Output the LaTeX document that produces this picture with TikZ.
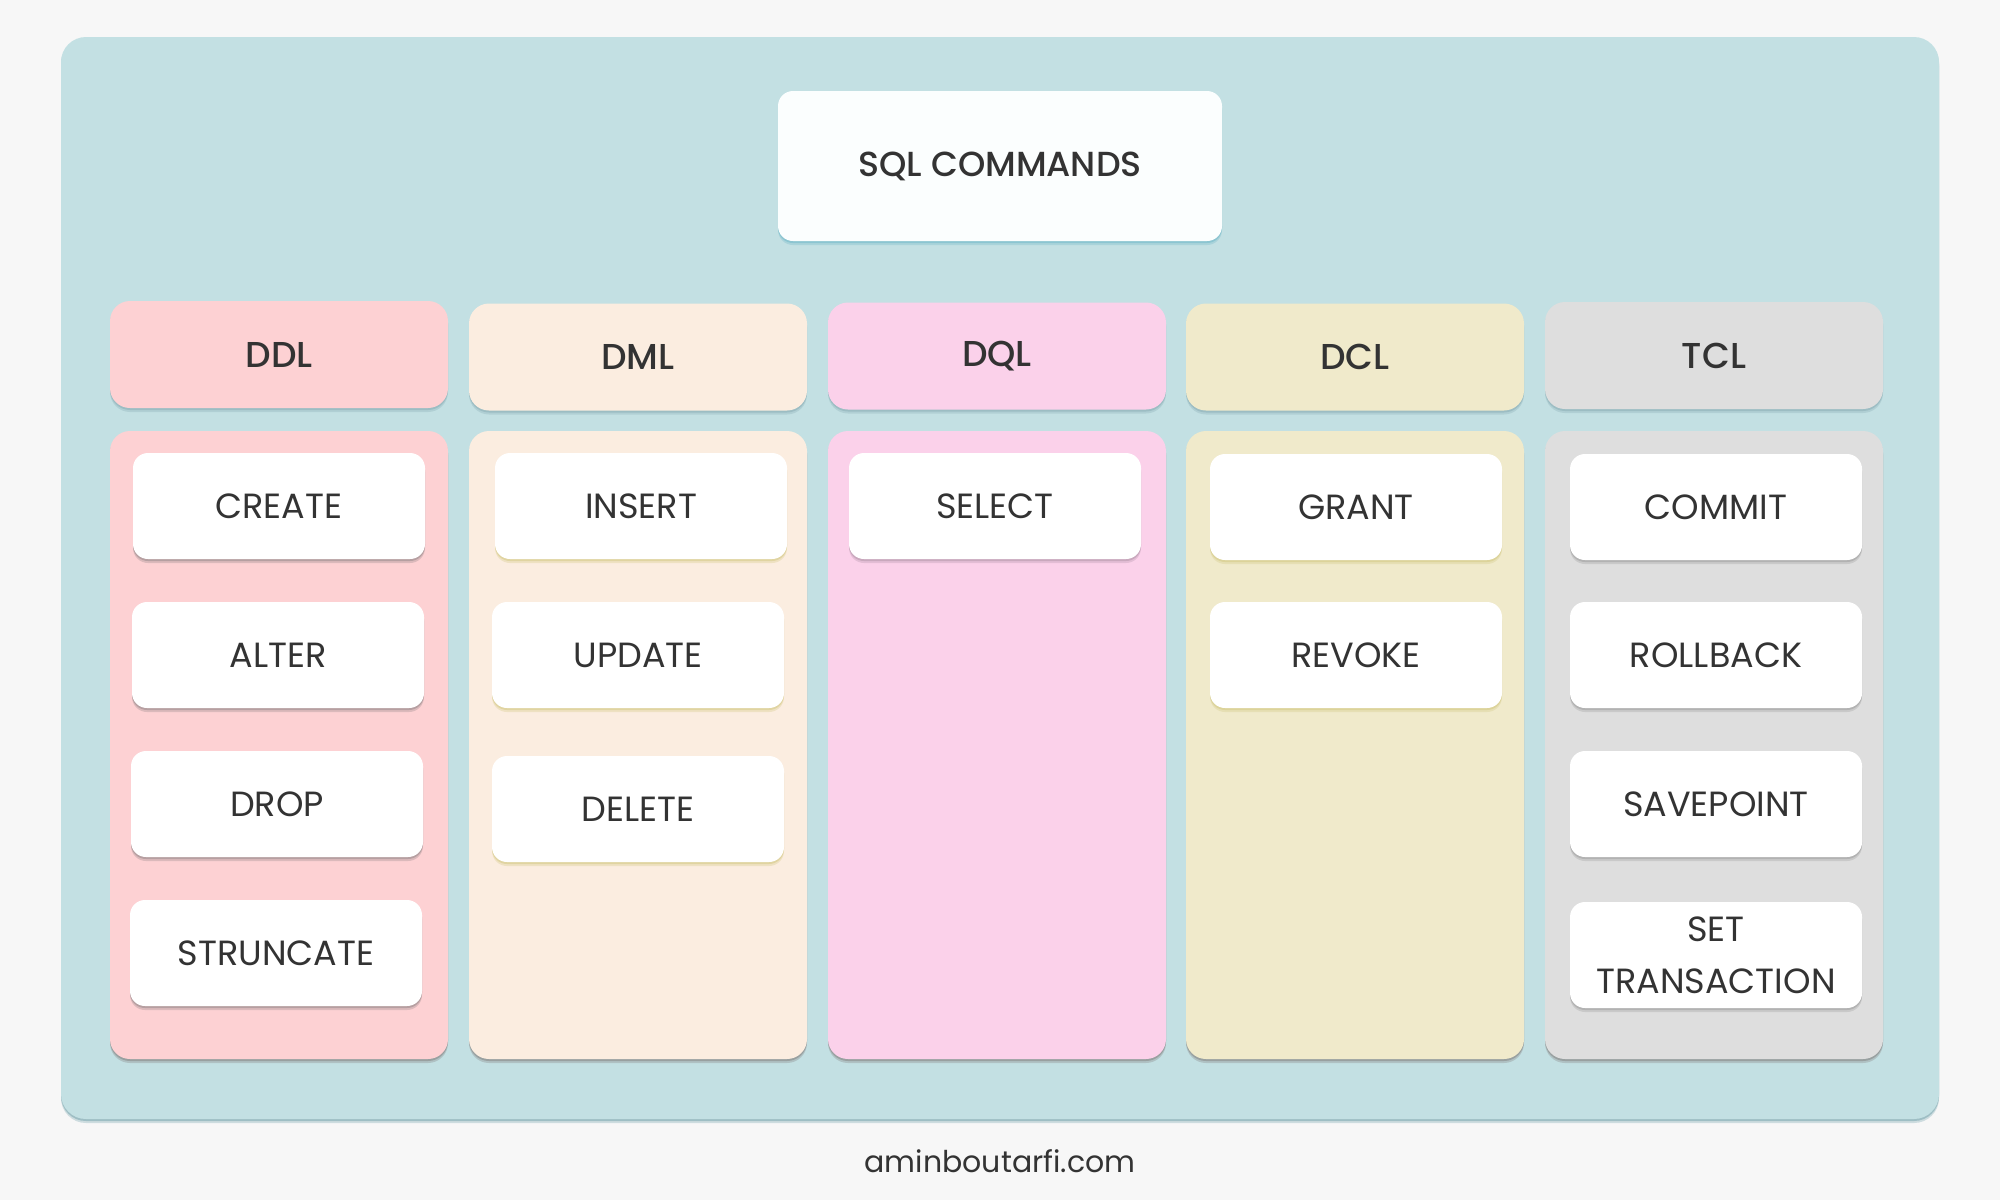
\documentclass[tikz,border=0pt]{standalone}
\usepackage{fontspec}
\setmainfont{Poppins}
\newfontfamily\medfont{Poppins}[UprightFont=* Medium]
\usetikzlibrary{shadows}

\definecolor{pagebg}{HTML}{F7F7F7}
\definecolor{panel}{HTML}{C3E0E3}
\definecolor{panelsh}{HTML}{7FAAB3}
\definecolor{ink}{HTML}{333333}
\definecolor{sqlfill}{HTML}{FBFEFE}
\definecolor{sqlsh}{HTML}{79BCCB}
\definecolor{headsh}{HTML}{8FB2B9}
\definecolor{ddlc}{HTML}{FDD1D3}
\definecolor{dmlc}{HTML}{FBEDE0}
\definecolor{dqlc}{HTML}{FBD1EA}
\definecolor{dclc}{HTML}{F0EACB}
\definecolor{tclc}{HTML}{DEDEDE}
\definecolor{ddlsh}{HTML}{9E8E90}
\definecolor{dmlsh}{HTML}{D8CC8C}
\definecolor{dqlsh}{HTML}{B99AAE}
\definecolor{dclsh}{HTML}{D6CB8A}
\definecolor{tclsh}{HTML}{A4A4A4}
\definecolor{bodysh}{HTML}{8A8A8A}

\tikzset{
  softshadow/.style={
    drop shadow={shadow xshift=0pt, shadow yshift=-2pt, fill=#1, opacity=.35},
    drop shadow={shadow xshift=0pt, shadow yshift=-1pt, fill=#1, opacity=.6}},
  card/.style={rounded corners=7.5pt, inner sep=0pt, align=center, text=ink},
  item/.style={card, fill=white, minimum width=146pt, minimum height=53pt,
    font=\fontsize{17.5}{26}\selectfont, softshadow=#1},
  head/.style={card, rounded corners=10pt, minimum width=169pt, minimum height=53.5pt,
    font=\medfont\fontsize{18}{24}\selectfont, softshadow=headsh},
  body/.style={card, rounded corners=10pt, minimum width=169pt, minimum height=314pt,
    softshadow=bodysh},
}

\begin{document}
\begin{tikzpicture}[x=0.5pt,y=-0.5pt]
\useasboundingbox (0,0) rectangle (2000,1200);
\fill[pagebg] (0,0) rectangle (2000,1200);

% outer panel
\node[card, rounded corners=12.5pt, fill=panel, minimum width=939pt, minimum height=541pt,
  softshadow=panelsh] (panel) at (1000,578) {};

% title
\node[card, fill=sqlfill, minimum width=222pt, minimum height=75pt,
  font=\medfont\fontsize{17.4}{20}\selectfont, softshadow=sqlsh] (sql) at (1000,166) {SQL COMMANDS};

% column headers
\node[head, fill=ddlc] (ddl) at (279,354.5) {DDL};
\node[head, fill=dmlc] (dml) at (638,357) {DML};
\node[head, fill=dqlc] (dql) at (997,356) {DQL};
\node[head, fill=dclc] (dcl) at (1355,357) {DCL};
\node[head, fill=tclc] (tcl) at (1714,355.5) {TCL};

% column bodies
\node[body, fill=ddlc] (ddlbody) at (279,745) {};
\node[body, fill=dmlc] (dmlbody) at (638,745) {};
\node[body, fill=dqlc] (dqlbody) at (997,745) {};
\node[body, fill=dclc] (dclbody) at (1355,745) {};
\node[body, fill=tclc] (tclbody) at (1714,745) {};

% DDL commands
\node[item=ddlsh] (create) at (279,506) {CREATE};
\node[item=ddlsh] (alter) at (278,655) {ALTER};
\node[item=ddlsh] (drop) at (277,804) {DROP};
\node[item=ddlsh] (struncate) at (276,953) {STRUNCATE};

% DML commands
\node[item=dmlsh] (insert) at (641,506) {INSERT};
\node[item=dmlsh] (update) at (638,655) {UPDATE};
\node[item=dmlsh] (delete) at (638,809) {DELETE};

% DQL commands
\node[item=dqlsh] (select) at (995,506) {SELECT};

% DCL commands
\node[item=dclsh] (grant) at (1356,507) {GRANT};
\node[item=dclsh] (revoke) at (1356,655) {REVOKE};

% TCL commands
\node[item=tclsh] (commit) at (1716,507) {COMMIT};
\node[item=tclsh] (rollback) at (1716,655) {ROLLBACK};
\node[item=tclsh] (savepoint) at (1716,804) {SAVEPOINT};
\node[item=tclsh] (settrans) at (1716,955) {SET\\TRANSACTION};

% footer
\node[text=ink, font=\fontsize{15}{18}\selectfont] (site) at (1000,1161) {aminboutarfi.com};
\end{tikzpicture}
\end{document}
